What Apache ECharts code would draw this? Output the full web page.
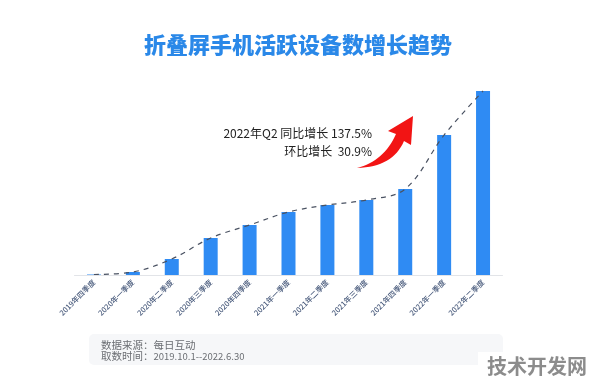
<!DOCTYPE html>
<html>
<head>
<meta charset="utf-8">
<script src="https://cdn.jsdelivr.net/npm/echarts@6/dist/echarts.min.js"></script>
<style>
html,body{margin:0;padding:0;background:#fff;}
#c{width:596px;height:384px;}
</style>
</head>
<body>
<div id="c"></div>
<script>
const categories = ['2019年四季度','2020年一季度','2020年二季度','2020年三季度','2020年四季度','2021年一季度','2021年二季度','2021年三季度','2021年四季度','2022年一季度','2022年二季度'];
const deviceValues = [0.5, 3, 16, 37, 50, 63, 70, 75, 86, 140, 184];
const titleText = '折叠屏手机活跃设备数增长趋势';
const noteLine1 = '2022年Q2 同比增长 137.5%';
const noteLine2 = '环比增长  30.9%';
const sourceLabel = '数据来源：';
const sourceValue = '每日互动';
const periodLabel = '取数时间：';
const periodValue = '2019.10.1--2022.6.30';
const watermark = '技术开发网';

const FONT = '"Noto Sans CJK SC", "Noto Sans", sans-serif';

function quad(p0, c, p1, n) {
  const pts = [];
  for (let i = 0; i <= n; i++) {
    const t = i / n, u = 1 - t;
    pts.push([u*u*p0[0] + 2*u*t*c[0] + t*t*p1[0], u*u*p0[1] + 2*u*t*c[1] + t*t*p1[1]]);
  }
  return pts;
}
const arrowPts = []
  .concat(quad([357,168],[384,161],[396,134],16))
  .concat([[388,131],[413,116],[411,145]])
  .concat(quad([404,141],[393,167],[357,168],16));

const footRich = {
  a: {fontSize: 10.5, fontFamily: FONT, fill: '#6b6e73', color: '#6b6e73'},
  d: {fontSize: 9.5, fontFamily: FONT, fill: '#6b6e73', color: '#6b6e73'}
};

const chart = echarts.init(document.getElementById('c'), null, {renderer: 'canvas'});
chart.setOption({
  backgroundColor: '#ffffff',
  animation: false,
  title: {
    text: titleText,
    left: 'center',
    top: 29,
    textStyle: {fontFamily: FONT, fontSize: 22, fontWeight: 900, color: '#2a88e8'}
  },
  grid: {left: 74.5, right: 93.5, top: 75, bottom: 109},
  xAxis: {
    type: 'category',
    data: categories,
    axisLine: {lineStyle: {color: '#e2e4e8', width: 1}},
    axisTick: {show: false},
    axisLabel: {interval: 0, rotate: 45, fontSize: 7.5, fontWeight: 500, margin: 6, color: '#46587a', fontFamily: FONT}
  },
  yAxis: {type: 'value', min: 0, max: 200, show: false, splitLine: {show: false}},
  series: [
    {
      type: 'bar',
      data: deviceValues,
      barWidth: 14,
      itemStyle: {color: '#2f8bf3'},
      z: 2
    },
    {
      type: 'line',
      data: deviceValues,
      smooth: 0.35,
      symbol: 'none',
      lineStyle: {color: '#4a5262', width: 1.2, type: [5, 5]},
      z: 3
    }
  ],
  graphic: [
    {type: 'text', x: 372, y: 133, style: {text: noteLine1, align: 'right', verticalAlign: 'middle', fontSize: 12, fontFamily: FONT, fill: '#222'}},
    {type: 'text', x: 372, y: 151, style: {text: noteLine2, align: 'right', verticalAlign: 'middle', fontSize: 12, fontFamily: FONT, fill: '#222'}},
    {type: 'polygon', shape: {points: arrowPts}, style: {fill: '#f21414'}},
    {type: 'rect', shape: {x: 89, y: 334, width: 414, height: 31, r: 5}, style: {fill: '#f6f7f9'}, z: -1},
    {type: 'text', x: 101, y: 345, style: {text: '{a|' + sourceLabel + sourceValue + '}', rich: footRich, verticalAlign: 'middle'}},
    {type: 'text', x: 101, y: 356, style: {text: '{a|' + periodLabel + '}{d|' + periodValue + '}', rich: footRich, verticalAlign: 'middle'}},
    {type: 'rect', shape: {x: 478, y: 352, width: 118, height: 32}, style: {fill: '#ffffff'}},
    {type: 'text', x: 487, y: 366, style: {text: watermark, verticalAlign: 'middle', fontSize: 20, fontWeight: 'bold', fontFamily: FONT, fill: '#8c8c8c'}}
  ]
});
</script>
</body>
</html>
